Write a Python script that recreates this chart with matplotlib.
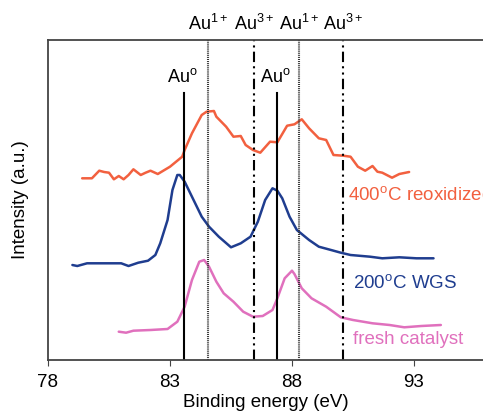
import numpy as np
import matplotlib
matplotlib.use('Agg')
import matplotlib.pyplot as plt

plt.rcParams['font.family'] = ['Liberation Sans', 'DejaVu Sans']
plt.rcParams['mathtext.fontset'] = 'custom'
plt.rcParams['mathtext.rm'] = 'Liberation Sans'
plt.rcParams['mathtext.it'] = 'Liberation Sans'

# Binding energy (eV) and intensity (a.u., arbitrary offsets)
reox_x = [79.4, 79.8, 80.1, 80.3, 80.5, 80.7, 80.9, 81.1, 81.3, 81.5, 81.8, 82.0, 82.2, 82.5,
          83.0, 83.5, 83.6, 83.9, 84.3, 84.5, 84.8, 84.9, 85.3, 85.6, 85.9, 86.1, 86.4, 86.7,
          87.1, 87.4, 87.8, 88.1, 88.4, 88.7, 89.1, 89.4, 89.7, 90.1, 90.4, 90.7, 91.0, 91.3,
          91.5, 91.7, 92.1, 92.4, 92.8]
reox_y = [181.7, 181.7, 189.3, 188.0, 187.3, 180.7, 184.0, 180.7, 185.0, 190.7, 185.0, 187.3,
          189.3, 186.0, 193.3, 203.3, 210.0, 226.7, 245.0, 248.3, 249.0, 243.3, 233.3, 223.3,
          224.0, 215.0, 210.0, 207.3, 218.3, 217.7, 234.3, 235.7, 240.7, 231.7, 221.7, 220.0,
          205.0, 204.3, 203.3, 193.3, 189.3, 194.0, 188.3, 187.3, 182.3, 186.0, 188.0]

wgs_x = [79.0, 79.2, 79.6, 80.3, 81.0, 81.3, 81.7, 82.1, 82.4, 82.6, 82.9, 83.1, 83.3, 83.4,
         83.6, 83.9, 84.3, 84.6, 85.0, 85.5, 85.9, 86.3, 86.6, 86.9, 87.2, 87.4, 87.6, 87.9,
         88.2, 88.7, 89.1, 89.6, 90.0, 90.4, 91.2, 91.7, 92.4, 93.1, 93.8]
wgs_y = [95.0, 94.0, 96.7, 96.7, 96.7, 94.0, 97.3, 99.3, 105.0, 116.7, 140.0, 170.0, 185.0,
         185.0, 178.3, 163.3, 143.3, 133.3, 123.3, 112.7, 116.7, 123.3, 138.3, 160.0, 171.7,
         169.3, 161.7, 143.3, 130.0, 120.0, 113.3, 110.0, 107.3, 105.0, 103.3, 101.7, 102.7,
         101.7, 101.7]

fresh_x = [80.9, 81.2, 81.5, 82.2, 82.9, 83.3, 83.6, 83.9, 84.2, 84.4, 84.6, 84.9, 85.2,
           85.6, 86.0, 86.4, 86.8, 87.2, 87.4, 87.7, 88.0, 88.1, 88.4, 88.8, 89.4, 90.0,
           90.5, 91.3, 92.0, 92.6, 93.3, 94.1]
fresh_y = [28.3, 27.3, 29.3, 30.0, 31.0, 38.3, 53.3, 80.0, 98.3, 100.0, 93.3, 78.3, 66.7,
           58.3, 48.3, 43.3, 44.0, 50.0, 61.7, 81.7, 89.3, 86.0, 71.7, 61.7, 53.3, 42.7,
           40.0, 36.7, 35.0, 32.7, 34.0, 35.0]

au0_pos = [83.57, 87.38]
au1_pos = [84.56, 88.29]
au3_pos = [86.44, 90.08]

fig = plt.figure(figsize=(4.83, 4.17), dpi=100)
ax = fig.add_axes([48 / 483, 57 / 417, 436 / 483, 320 / 417])
ax.set_xlim(78, 78 + 436 / 24.4)
ax.set_ylim(0, 320)

c_reox = '#f2603f'
c_wgs = '#1f3d8f'
c_fresh = '#e070bd'

for xs, ys, c in [(reox_x, reox_y, c_reox), (wgs_x, wgs_y, c_wgs), (fresh_x, fresh_y, c_fresh)]:
    ax.plot(xs, ys, color=c, lw=1.8, solid_joinstyle='round', solid_capstyle='round')

for x in au0_pos:
    ax.plot([x, x], [0, 267], color='black', lw=1.5)
    ax.text(x - 0.05, 283, 'Au$^{\\mathrm{o}}$', ha='center', va='center', fontsize=13)
for x in au1_pos:
    ax.plot([x, x], [0, 320], color='#333333', lw=1.5, linestyle=(0, (0.5, 0.5)))
    ax.text(x, 336, 'Au$^{1+}$', ha='center', va='center', fontsize=13, clip_on=False)
for x in au3_pos:
    ax.plot([x, x], [0, 320], color='black', lw=1.5, linestyle=(0, (5, 2, 1, 2, 1, 2)))
    ax.text(x, 336, 'Au$^{3+}$', ha='center', va='center', fontsize=13, clip_on=False)

ax.text(90.3, 165, '400$^{\\mathrm{o}}$C reoxidized', color=c_reox, fontsize=13.5, va='center')
ax.text(90.5, 77, '200$^{\\mathrm{o}}$C WGS', color=c_wgs, fontsize=13.5, va='center')
ax.text(90.5, 20, 'fresh catalyst', color=c_fresh, fontsize=13.5, va='center')

ax.set_xticks([78, 83, 88, 93])
ax.set_yticks([])
ax.tick_params(axis='x', direction='out', length=4, labelsize=13.5, pad=6, color='#444444')
ax.spines['right'].set_visible(False)
for s in ['left', 'bottom', 'top']:
    ax.spines[s].set_color('#444444')
    ax.spines[s].set_linewidth(1.3)

ax.set_xlabel('Binding energy (eV)', fontsize=13.5, labelpad=2)
ax.set_ylabel('Intensity (a.u.)', fontsize=13.5, labelpad=14)

fig.savefig('out.png', dpi=100)
